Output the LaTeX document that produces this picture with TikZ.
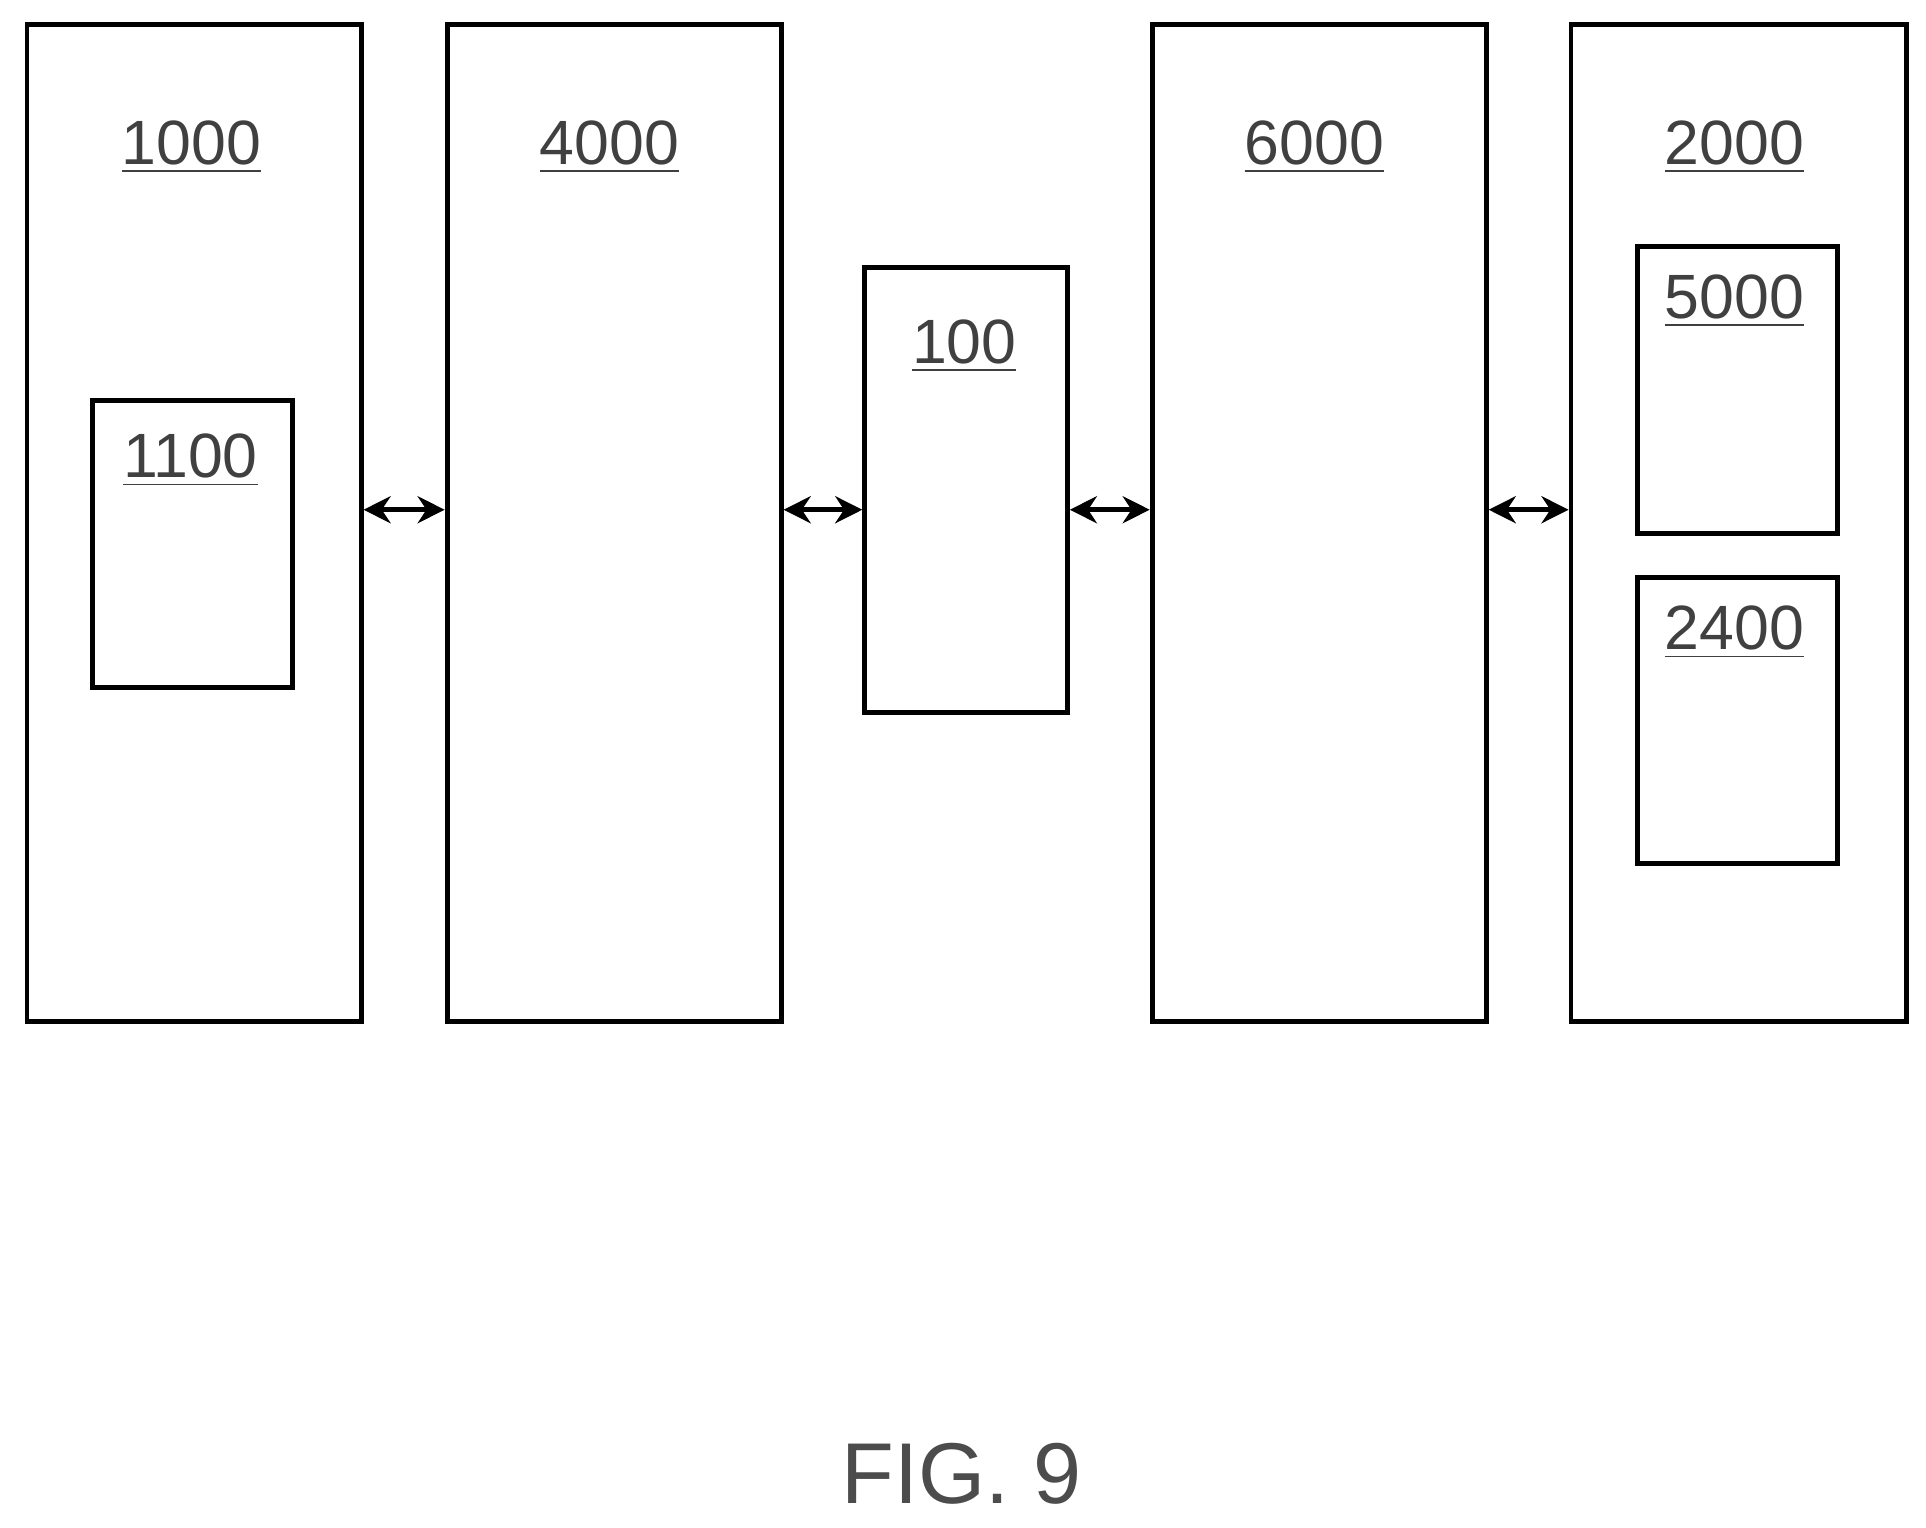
\documentclass[tikz,border=0pt]{standalone}
\usepackage{fontspec}
\setmainfont{Liberation Sans}
\usetikzlibrary{arrows.meta}
\begin{document}
\begin{tikzpicture}[x=0.1mm, y=-0.1mm,
    block/.style={draw, line width=0.4mm, anchor=north west, inner sep=0pt},
    tag/.style={font=\fontsize{14.5}{17}\selectfont, text=black!75},
    link/.style={line width=0.4mm, {Stealth[length=2.2mm,width=2.2mm]}-{Stealth[length=2.2mm,width=2.2mm]}},
    ]
  \useasboundingbox (0,0) rectangle (1568,1244);

  \node[block, minimum width=27.2mm, minimum height=81.2mm] (b1000) at (20,18) {};
  \node[block, minimum width=27.2mm, minimum height=81.2mm] (b4000) at (362,18) {};
  \node[block, minimum width=27.2mm, minimum height=81.2mm] (b6000) at (936,18) {};
  \node[block, minimum width=27.3mm, minimum height=81.2mm] (b2000) at (1277,18) {};
  \node[block, minimum width=16.5mm, minimum height=36.2mm] (b100) at (702,216) {};
  \node[block, minimum width=16.3mm, minimum height=23.4mm] (b1100) at (73,324) {};
  \node[block, minimum width=16.3mm, minimum height=23.3mm] (b5000) at (1331,199) {};
  \node[block, minimum width=16.3mm, minimum height=23.3mm] (b2400) at (1331,468) {};

  \node[tag] (t1000) at (156,120) {\underline{1000}};
  \node[tag] (t4000) at (496,120) {\underline{4000}};
  \node[tag] (t6000) at (1070,120) {\underline{6000}};
  \node[tag] (t2000) at (1412,120) {\underline{2000}};
  \node[tag] (t100) at (785,282) {\underline{100}};
  \node[tag] (t1100) at (155,375) {\underline{1100}};
  \node[tag] (t5000) at (1412,245) {\underline{5000}};
  \node[tag] (t2400) at (1412,515) {\underline{2400}};

  \coordinate (mid) at (0,415);
  \draw[link] (b1000.east |- mid) -- (b4000.west |- mid);
  \draw[link] (b4000.east |- mid) -- (b100.west |- mid);
  \draw[link] (b100.east |- mid) -- (b6000.west |- mid);
  \draw[link] (b6000.east |- mid) -- (b2000.west |- mid);

  \node[font=\fontsize{20}{24}\selectfont, text=black!70] (fig) at (783,1200) {FIG. 9};
\end{tikzpicture}
\end{document}
